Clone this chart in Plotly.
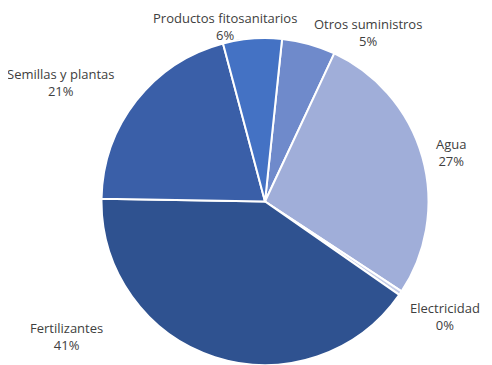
import plotly.graph_objects as go

labels = ["Otros suministros", "Agua", "Electricidad", "Fertilizantes",
          "Semillas y plantas", "Productos fitosanitarios"]
values = [5.3, 27.3, 0.4, 40.6, 20.6, 5.8]
colors = ["#6F8ACB", "#A0AED9", "#C5CDE8", "#2F5290", "#3A5FA8", "#4472C4"]

# label centres in pixels (x, y) of the figure
label_pos = [(360, 25), (443, 144), (437, 308), (58, 328), (52, 74), (217, 18)]

W, H = 476, 357
fig = go.Figure(go.Pie(
    labels=labels, values=values, sort=False, direction="clockwise",
    rotation=6, textinfo="none", hoverinfo="label+percent",
    marker=dict(colors=colors, line=dict(color="white", width=2)),
    domain=dict(x=[92 / W, 422 / W], y=[0, 1 - 30 / H]),
    showlegend=False,
))

total = sum(values)
for lab, v, (px, py) in zip(labels, values, label_pos):
    pct = int(100 * v / total + 0.5)
    fig.add_annotation(
        x=px / W, y=1 - py / H, xref="paper", yref="paper",
        text=f"{lab}<br>{pct}%", showarrow=False,
        xanchor="center", yanchor="middle", align="center",
        font=dict(family="Open Sans", size=13, color="#404040"),
    )

fig.update_layout(
    width=W, height=H, margin=dict(l=0, r=0, t=0, b=0),
    paper_bgcolor="white", plot_bgcolor="white",
)
fig.write_html("out.html")
